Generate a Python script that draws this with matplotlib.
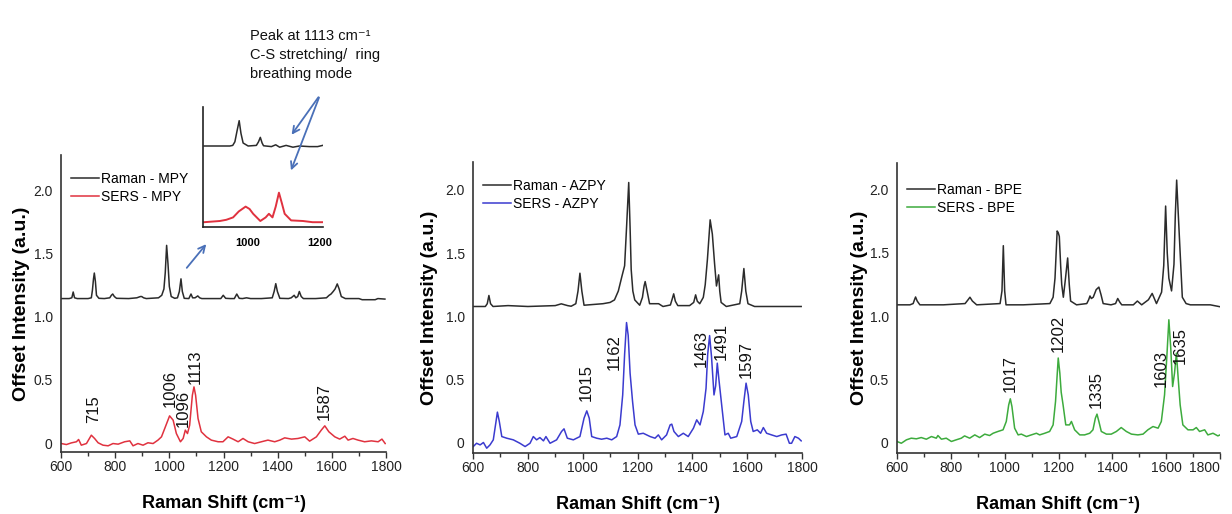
import matplotlib
matplotlib.use("Agg")
import matplotlib.pyplot as plt
from matplotlib.patches import FancyArrowPatch

FAM = ['Liberation Sans', 'DejaVu Sans']
plt.rcParams['font.family'] = FAM

# ---------------- data ----------------
# Panel 1: MPY
mpy_raman_x = [600, 630, 640, 645, 650, 660, 700, 712, 716, 720, 723, 727, 731, 740, 760, 780, 786,
               791, 797, 805, 850, 880, 893, 898, 905, 915, 960, 972, 980, 985, 990, 995, 1000,
               1007, 1020, 1030, 1037, 1043, 1048, 1055, 1072, 1080, 1086, 1095, 1105, 1112, 1120,
               1160, 1190, 1199, 1208, 1225, 1240, 1249, 1258, 1270, 1285, 1300, 1340, 1380, 1387,
               1393, 1399, 1408, 1440, 1450, 1461, 1467, 1474, 1480, 1487, 1495, 1540, 1580, 1590,
               1597, 1605, 1612, 1620, 1627, 1635, 1650, 1700, 1712, 1722, 1745, 1760, 1770, 1796]
mpy_raman_y = [1.144, 1.144, 1.15, 1.196, 1.15, 1.144, 1.144, 1.15, 1.21, 1.30, 1.346, 1.28, 1.17,
               1.146, 1.144, 1.15, 1.17, 1.18, 1.16, 1.146, 1.144, 1.15, 1.16, 1.16, 1.15, 1.144,
               1.15, 1.17, 1.22, 1.35, 1.565, 1.42, 1.24, 1.16, 1.146, 1.15, 1.2, 1.30, 1.2, 1.146,
               1.144, 1.18, 1.15, 1.15, 1.165, 1.15, 1.144, 1.144, 1.144, 1.17, 1.146, 1.144, 1.144,
               1.18, 1.146, 1.144, 1.15, 1.144, 1.144, 1.15, 1.2, 1.262, 1.2, 1.146, 1.144, 1.15,
               1.17, 1.15, 1.16, 1.20, 1.16, 1.144, 1.144, 1.15, 1.17, 1.18, 1.2, 1.22, 1.26, 1.22,
               1.16, 1.144, 1.144, 1.135, 1.135, 1.135, 1.135, 1.144, 1.14]
mpy_sers_x = [601, 620, 638, 657, 665, 675, 694, 712, 724, 737, 755, 774, 792, 811, 835, 854, 866,
              884, 903, 921, 940, 958, 971, 983, 1001, 1014, 1026, 1041, 1051, 1059, 1067, 1075,
              1085, 1091, 1097, 1106, 1118, 1137, 1155, 1180, 1198, 1217, 1235, 1254, 1272, 1291,
              1315, 1340, 1364, 1389, 1408, 1426, 1451, 1475, 1500, 1518, 1543, 1561, 1574, 1589,
              1611, 1629, 1648, 1660, 1678, 1697, 1721, 1746, 1771, 1785, 1797]
mpy_sers_y = [-0.003, -0.011, 0.002, 0.011, 0.029, -0.016, -0.003, 0.063, 0.037, 0.003, -0.016,
              -0.021, -0.003, -0.008, 0.011, 0.018, -0.021, -0.003, -0.016, 0.003, -0.003, 0.024,
              0.05, 0.116, 0.216, 0.182, 0.076, 0.011, 0.037, 0.103, 0.076, 0.142, 0.379, 0.445,
              0.379, 0.195, 0.09, 0.05, 0.024, 0.011, 0.011, 0.05, 0.032, 0.011, 0.037, 0.011,
              -0.003, 0.011, 0.024, 0.011, 0.024, 0.042, 0.032, 0.037, 0.05, 0.016, 0.05, 0.103,
              0.137, 0.09, 0.05, 0.032, 0.055, 0.024, 0.037, 0.024, 0.011, 0.018, 0.011, 0.032,
              -0.003]

# Inset (zoom 875-1210 of MPY)
ins_raman_x = [878, 950, 958, 964, 970, 976, 981, 987, 1001, 1024, 1030, 1035, 1040, 1044, 1066,
               1078, 1089, 1107, 1126, 1144, 1172, 1195, 1209]
ins_raman_y = [0.675, 0.675, 0.68, 0.71, 0.80, 0.886, 0.78, 0.70, 0.675, 0.68, 0.71, 0.747, 0.70,
               0.677, 0.67, 0.685, 0.665, 0.68, 0.665, 0.675, 0.67, 0.67, 0.68]
ins_sers_x = [878, 900, 922, 940, 959, 975, 994, 1005, 1015, 1035, 1050, 1059, 1069, 1078, 1087,
              1095, 1103, 1121, 1154, 1181, 1209]
ins_sers_y = [0.04, 0.045, 0.05, 0.06, 0.08, 0.13, 0.17, 0.15, 0.11, 0.05, 0.08, 0.11, 0.08, 0.17,
              0.286, 0.2, 0.11, 0.055, 0.05, 0.04, 0.04]

# Panel 2: AZPY
azpy_raman_x = [600, 645, 652, 658, 664, 673, 728, 800, 900, 922, 945, 958, 975, 983, 990, 997,
                1005, 1074, 1100, 1116, 1130, 1143, 1153, 1160, 1168, 1173, 1177, 1183, 1190, 1208,
                1218, 1224, 1228, 1235, 1244, 1277, 1293, 1320, 1327, 1332, 1338, 1347, 1390, 1405,
                1412, 1418, 1427, 1440, 1447, 1455, 1465, 1473, 1481, 1488, 1496, 1500, 1505, 1524,
                1573, 1580, 1588, 1595, 1603, 1627, 1797]
azpy_raman_y = [1.078, 1.078, 1.10, 1.165, 1.10, 1.078, 1.085, 1.078, 1.085, 1.099, 1.085, 1.08,
                1.10, 1.2, 1.341, 1.2, 1.088, 1.10, 1.11, 1.13, 1.2, 1.315, 1.40, 1.7, 2.058, 1.7,
                1.37, 1.2, 1.13, 1.088, 1.15, 1.24, 1.275, 1.2, 1.10, 1.10, 1.078, 1.09, 1.14,
                1.178, 1.12, 1.085, 1.085, 1.11, 1.17, 1.12, 1.10, 1.15, 1.25, 1.45, 1.763, 1.65,
                1.42, 1.24, 1.328, 1.2, 1.11, 1.078, 1.10, 1.2, 1.378, 1.2, 1.10, 1.078, 1.078]
azpy_sers_x = [601, 613, 626, 638, 650, 662, 674, 684, 689, 696, 705, 723, 747, 771, 790, 808, 820,
               832, 844, 857, 866, 881, 905, 923, 932, 944, 966, 990, 1005, 1015, 1024, 1033, 1051,
               1069, 1088, 1106, 1124, 1136, 1146, 1153, 1160, 1166, 1173, 1182, 1191, 1203, 1221,
               1246, 1264, 1276, 1288, 1306, 1319, 1325, 1333, 1349, 1367, 1385, 1404, 1416, 1428,
               1440, 1450, 1456, 1463, 1470, 1479, 1485, 1491, 1497, 1507, 1519, 1531, 1540, 1562,
               1580, 1588, 1596, 1604, 1613, 1622, 1637, 1649, 1659, 1671, 1689, 1708, 1726, 1742,
               1754, 1762, 1774, 1787, 1797]
azpy_sers_y = [-0.029, -0.003, -0.016, 0.003, -0.042, -0.016, 0.024, 0.169, 0.243, 0.169, 0.05,
               0.037, 0.024, -0.003, -0.029, -0.003, 0.05, 0.024, 0.042, 0.016, 0.05, -0.003, 0.024,
               0.09, 0.111, 0.037, 0.024, 0.05, 0.195, 0.253, 0.195, 0.05, 0.037, 0.029, 0.037,
               0.024, 0.05, 0.142, 0.379, 0.70, 0.951, 0.85, 0.55, 0.327, 0.142, 0.069, 0.076,
               0.05, 0.037, 0.063, 0.024, 0.063, 0.142, 0.148, 0.09, 0.05, 0.076, 0.05, 0.116,
               0.182, 0.142, 0.248, 0.432, 0.70, 0.848, 0.68, 0.379, 0.45, 0.63, 0.50, 0.3, 0.063,
               0.076, 0.037, 0.05, 0.169, 0.327, 0.472, 0.379, 0.169, 0.09, 0.103, 0.076, 0.121,
               0.076, 0.063, 0.05, 0.063, 0.069, -0.003, -0.003, 0.05, 0.037, 0.016]

# Panel 3: BPE
bpe_raman_x = [600, 648, 660, 665, 669, 675, 685, 772, 853, 864, 871, 880, 896, 983, 990, 995,
               1000, 1005, 1069, 1168, 1180, 1187, 1195, 1199, 1203, 1208, 1212, 1218, 1226, 1234,
               1240, 1245, 1267, 1305, 1312, 1317, 1322, 1329, 1340, 1350, 1358, 1366, 1395, 1412,
               1420, 1428, 1435, 1478, 1493, 1509, 1534, 1548, 1564, 1583, 1591, 1598, 1604, 1610,
               1620, 1629, 1634, 1639, 1644, 1649, 1660, 1674, 1690, 1764, 1800]
bpe_raman_y = [1.09, 1.09, 1.10, 1.13, 1.152, 1.12, 1.09, 1.09, 1.10, 1.13, 1.15, 1.12, 1.09, 1.10,
               1.20, 1.557, 1.20, 1.09, 1.09, 1.10, 1.15, 1.30, 1.673, 1.66, 1.63, 1.4, 1.25, 1.15,
               1.3, 1.46, 1.25, 1.12, 1.09, 1.10, 1.13, 1.16, 1.14, 1.15, 1.21, 1.23, 1.17, 1.10,
               1.09, 1.10, 1.14, 1.11, 1.09, 1.09, 1.12, 1.09, 1.13, 1.18, 1.10, 1.19, 1.4, 1.87,
               1.5, 1.30, 1.20, 1.41, 1.8, 2.075, 1.85, 1.63, 1.15, 1.10, 1.09, 1.09, 1.075]
bpe_sers_x = [600, 616, 635, 653, 672, 690, 709, 728, 746, 752, 765, 783, 802, 820, 839, 851, 870,
              889, 907, 926, 944, 957, 975, 994, 1006, 1015, 1021, 1027, 1037, 1050, 1062, 1081,
              1099, 1118, 1130, 1149, 1167, 1180, 1189, 1194, 1199, 1205, 1210, 1217, 1227, 1241,
              1248, 1260, 1279, 1297, 1316, 1328, 1337, 1343, 1350, 1359, 1378, 1396, 1415, 1433,
              1452, 1471, 1495, 1514, 1532, 1551, 1570, 1582, 1594, 1603, 1610, 1617, 1624, 1631,
              1638, 1645, 1652, 1662, 1681, 1700, 1712, 1724, 1743, 1755, 1774, 1792, 1800]
bpe_sers_y = [0.011, -0.003, 0.024, 0.037, 0.032, 0.042, 0.029, 0.05, 0.037, 0.058, 0.029, 0.037,
              0.011, 0.024, 0.037, 0.055, 0.037, 0.063, 0.042, 0.069, 0.058, 0.076, 0.09, 0.103,
              0.169, 0.3, 0.348, 0.287, 0.116, 0.063, 0.069, 0.05, 0.063, 0.076, 0.063, 0.076,
              0.09, 0.142, 0.327, 0.50, 0.67, 0.55, 0.40, 0.3, 0.142, 0.142, 0.169, 0.103, 0.063,
              0.063, 0.076, 0.103, 0.195, 0.227, 0.169, 0.09, 0.069, 0.069, 0.09, 0.121, 0.09,
              0.069, 0.063, 0.069, 0.103, 0.129, 0.116, 0.169, 0.379, 0.70, 0.972, 0.75, 0.445,
              0.55, 0.709, 0.5, 0.3, 0.142, 0.103, 0.103, 0.121, 0.09, 0.103, 0.063, 0.076, 0.055,
              0.063]

# peak labels: (text, x, y of label bottom)
mpy_labels = [("715", 719, 0.16), ("1006", 1002, 0.287), ("1096", 1052, 0.13),
              ("1113", 1095, 0.47), ("1587", 1572, 0.18)]
azpy_labels = [("1015", 1013, 0.33), ("1162", 1116, 0.577), ("1463", 1432, 0.60),
               ("1491", 1505, 0.656), ("1597", 1597, 0.51)]
bpe_labels = [("1017", 1020, 0.405), ("1202", 1199, 0.72), ("1335", 1342, 0.274),
              ("1603", 1580, 0.445), ("1635", 1652, 0.62)]

yticks = [0, 0.5, 1.0, 1.5, 2.0]
ytick_labels = ["0", "0.5", "1.0", "1.5", "2.0"]
xticks = [600, 800, 1000, 1200, 1400, 1600, 1800]
inset_xticks = [1000, 1200]

BLACK = "#2b2b2b"
RED = "#e0323f"
BLUE = "#3b3bcf"
GREEN = "#3dab3d"
ARROW = "#4a70b8"

W, H = 1232, 514
fig = plt.figure(figsize=(W / 100, H / 100), dpi=100)
fig.patch.set_facecolor("white")


def px_rect(l, t, r, b):
    return [l / W, 1 - b / H, (r - l) / W, (b - t) / H]


panels = [
    (px_rect(61, 155, 386, 452), mpy_raman_x, mpy_raman_y, mpy_sers_x, mpy_sers_y, RED,
     "Raman - MPY", "SERS - MPY", mpy_labels, (-0.07, 2.28), -0.096, 0.975),
    (px_rect(473, 162, 802, 453), azpy_raman_x, azpy_raman_y, azpy_sers_x, azpy_sers_y, BLUE,
     "Raman - AZPY", "SERS - AZPY", azpy_labels, (-0.08, 2.22), -0.107, 0.975),
    (px_rect(897, 163, 1220, 453), bpe_raman_x, bpe_raman_y, bpe_sers_x, bpe_sers_y, GREEN,
     "Raman - BPE", "SERS - BPE", bpe_labels, (-0.08, 2.21), -0.091, 0.965),
]

axes = []
for rect, rx, ry, sx, sy, col, lab1, lab2, labels, ylim, ylab_x, leg_y in panels:
    ax = fig.add_axes(rect)
    axes.append(ax)
    ax.plot(rx, ry, color=BLACK, lw=1.1, label=lab1)
    ax.plot(sx, sy, color=col, lw=1.1, label=lab2)
    ax.set_xlim(600, 1800)
    ax.set_ylim(*ylim)
    for side in ("top", "right"):
        ax.spines[side].set_visible(False)
    for side in ("left", "bottom"):
        ax.spines[side].set_color("#333333")
        ax.spines[side].set_linewidth(1.2)
    ax.set_xticks(xticks)
    ax.set_xticks(list(range(700, 1800, 200)), minor=True)
    ax.set_yticks(yticks)
    ax.set_yticklabels(ytick_labels)
    ax.tick_params(axis="x", which="major", direction="out", length=4, width=1, labelsize=10,
                   pad=2, colors="#333333", labelcolor="#222222")
    ax.tick_params(axis="x", which="minor", direction="out", length=3, width=1, colors="#333333")
    ax.tick_params(axis="y", direction="out", length=0, labelsize=10, pad=6,
                   labelcolor="#222222")
    ax.set_xlabel("Raman Shift (cm⁻¹)", fontsize=13, fontweight="bold", labelpad=15)
    ax.set_ylabel("Offset Intensity (a.u.)", fontsize=14, fontweight="bold")
    ax.yaxis.set_label_coords(ylab_x, 0.5)
    for txt, x, y in labels:
        ax.text(x, y, txt, rotation=90, ha="center", va="bottom", fontsize=12,
                color="#111111")
    ax.legend(loc="upper left", bbox_to_anchor=(0.0, leg_y), frameon=False, fontsize=10,
              handlelength=2.0, handletextpad=0.2, labelspacing=0.3, borderaxespad=0.3)

# last x tick label of the right panel sits at the figure edge
axes[2].get_xticklabels()[-1].set_horizontalalignment("right")

# inset
axi = fig.add_axes(px_rect(203, 107, 323, 227))
axi.plot(ins_raman_x, ins_raman_y, color=BLACK, lw=1.1)
axi.plot(ins_sers_x, ins_sers_y, color=RED, lw=1.4)
axi.set_xlim(875, 1210)
axi.set_ylim(0, 1)
for side in ("top", "right"):
    axi.spines[side].set_visible(False)
for side in ("left", "bottom"):
    axi.spines[side].set_color("#222222")
    axi.spines[side].set_linewidth(1.2)
axi.set_yticks([])
axi.set_xticks(inset_xticks)
axi.tick_params(axis="x", length=0, labelsize=8, pad=8)
for t in axi.get_xticklabels():
    t.set_fontweight("bold")

# annotation text and arrows
fig.text(250 / W, 1 - 29 / H, "Peak at 1113 cm⁻¹\nC-S stretching/  ring\nbreathing mode",
         ha="left", va="top", fontsize=10.5, linespacing=1.45, color="#111111")


def fpt(x, y):
    return (x / W, 1 - y / H)


arrow_kw = dict(arrowstyle="->", color=ARROW, lw=1.3, mutation_scale=12)
for tip in [(290, 137), (290, 173)]:
    fig.add_artist(FancyArrowPatch(fpt(320, 95), fpt(*tip), transform=fig.transFigure,
                                   **arrow_kw))
fig.add_artist(FancyArrowPatch(fpt(185, 270), fpt(208, 242), transform=fig.transFigure,
                               **arrow_kw))

fig.savefig("out.png", dpi=100, facecolor="white")
